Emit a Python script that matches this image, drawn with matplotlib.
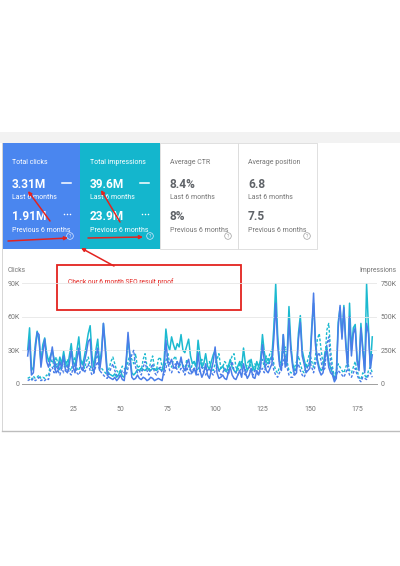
import numpy as np
import matplotlib
matplotlib.use('Agg')
import matplotlib.pyplot as plt
from matplotlib.patches import Rectangle, Circle, FancyArrowPatch

plt.rcParams['font.family'] = ['Roboto', 'DejaVu Sans']

# Data (clicks in K, impressions in K), one value per day
clicks_last = [25, 39, 8, 10, 30, 46, 44, 15, 28, 40, 20, 15, 22, 33, 18, 10, 12, 20, 14, 25,
               12, 10, 18, 30, 15, 10, 22, 32, 15, 12, 20, 28, 38, 40, 15, 10, 25, 32, 12, 25,
               54, 30, 8, 6, 5, 4, 6, 3, 5, 8, 4, 3, 20, 46, 25, 6, 4, 5, 8, 5,
               4, 6, 5, 3, 4, 6, 5, 3, 4, 5, 4, 3, 12, 39, 20, 18, 22, 15, 14, 20,
               16, 24, 15, 12, 18, 22, 12, 10, 14, 8, 28, 12, 6, 10, 18, 8, 5, 12, 20, 33,
               10, 5, 6, 8, 5, 4, 10, 15, 8, 5, 4, 8, 12, 6, 18, 10, 5, 8, 14, 6,
               5, 12, 8, 15, 35, 20, 12, 10, 14, 18, 40, 72, 35, 17, 12, 44, 15, 20, 57, 30,
               15, 8, 10, 40, 55, 25, 18, 10, 12, 14, 45, 81, 35, 20, 12, 8, 10, 25, 30, 15,
               10, 8, 2, 5, 50, 70, 40, 68, 35, 15, 60, 25, 45, 50, 20, 12, 50, 30, 10, 54,
               45, 14, 26]
impressions_last = [250, 417, 100, 125, 292, 392, 317, 167, 292, 342, 233, 167, 208, 250, 183, 125, 133, 200, 150, 242,
                    150, 125, 208, 300, 167, 133, 250, 350, 183, 142, 208, 292, 375, 433, 208, 125, 250, 333, 150, 250,
                    450, 292, 100, 75, 67, 58, 75, 50, 67, 100, 58, 50, 150, 333, 208, 83, 67, 83, 108, 100,
                    117, 108, 100, 117, 108, 100, 117, 108, 100, 117, 108, 100, 167, 408, 292, 250, 350, 292, 250, 300,
                    275, 367, 250, 233, 283, 333, 208, 150, 167, 125, 325, 208, 125, 150, 225, 133, 108, 167, 217, 250,
                    150, 100, 117, 133, 100, 92, 133, 183, 125, 100, 83, 133, 167, 117, 267, 150, 100, 133, 183, 117,
                    100, 167, 125, 183, 367, 233, 167, 150, 183, 208, 417, 745, 375, 167, 150, 367, 150, 208, 575, 292,
                    150, 100, 117, 375, 508, 250, 183, 125, 133, 150, 417, 600, 317, 183, 125, 100, 117, 233, 275, 167,
                    117, 83, 33, 67, 458, 567, 350, 583, 317, 150, 600, 250, 417, 442, 183, 125, 450, 267, 100, 745,
                    417, 117, 350]
clicks_prev = [3, 4, 3, 5, 3, 4, 6, 3, 4, 3, 5, 4, 12, 15, 10, 18, 12, 8, 14, 10,
               12, 16, 10, 8, 14, 18, 10, 8, 12, 15, 10, 14, 18, 12, 8, 10, 16, 20, 12, 10,
               8, 6, 5, 10, 14, 18, 12, 8, 6, 8, 12, 10, 8, 14, 20, 26, 30, 15, 10, 12,
               8, 15, 20, 12, 8, 14, 18, 10, 8, 12, 15, 10, 8, 14, 20, 12, 10, 15, 18, 12,
               10, 14, 12, 8, 15, 10, 8, 12, 14, 10, 8, 12, 15, 10, 8, 12, 14, 10, 8, 12,
               15, 12, 8, 10, 14, 12, 8, 15, 20, 12, 10, 8, 12, 14, 10, 8, 12, 15, 10, 8,
               12, 10, 8, 12, 14, 10, 18, 15, 20, 24, 12, 8, 6, 10, 14, 20, 25, 15, 8, 6,
               6, 10, 14, 18, 12, 8, 6, 10, 16, 20, 15, 10, 18, 25, 28, 20, 12, 14, 35, 42,
               20, 10, 4, 8, 12, 10, 8, 6, 10, 14, 8, 6, 10, 14, 8, 4, 2, 6, 5, 4,
               8, 10, 6]
impressions_prev = [42, 50, 33, 58, 42, 50, 67, 42, 50, 42, 67, 58, 150, 183, 125, 200, 150, 100, 167, 125,
                    133, 183, 117, 100, 167, 200, 117, 100, 150, 167, 117, 167, 200, 133, 100, 117, 183, 217, 133, 117,
                    100, 83, 67, 117, 167, 200, 150, 100, 83, 100, 133, 117, 100, 167, 217, 183, 150, 225, 117, 133,
                    100, 183, 225, 133, 100, 167, 208, 117, 100, 183, 200, 125, 100, 167, 233, 150, 125, 183, 208, 150,
                    117, 167, 150, 100, 183, 125, 100, 150, 167, 117, 100, 150, 183, 125, 100, 150, 167, 117, 100, 150,
                    183, 225, 117, 125, 167, 150, 100, 167, 208, 225, 125, 100, 150, 167, 125, 100, 150, 183, 125, 100,
                    150, 125, 100, 150, 183, 125, 208, 167, 233, 250, 150, 100, 83, 125, 167, 233, 275, 167, 100, 83,
                    83, 125, 167, 208, 150, 100, 83, 125, 183, 233, 167, 125, 208, 333, 375, 250, 150, 167, 400, 450,
                    250, 125, 50, 100, 150, 125, 100, 83, 125, 167, 100, 83, 125, 167, 100, 50, 33, 83, 67, 42,
                    100, 125, 83]

left_ticks = [0, 30, 60, 90]
left_labels = ['0', '30K', '60K', '90K']
right_ticks = [0, 250, 500, 750]
right_labels = ['0', '250K', '500K', '750K']
x_ticks = [25, 50, 75, 100, 125, 150, 175]

cards = [
    ('Total clicks', '3.31M', '1.91M'),
    ('Total impressions', '39.6M', '23.9M'),
    ('Average CTR', '8.4%', '8%'),
    ('Average position', '6.8', '7.5'),
]

BLUE = '#4a86ef'
TEAL = '#14b6cd'
LINE_BLUE = '#4a7de8'
LINE_TEAL = '#1cbad0'
GRAY_TXT = '#757575'
RED = '#e3231f'

fig = plt.figure(figsize=(4, 5.66), dpi=100)
fig.patch.set_facecolor('white')

# chart
ax = fig.add_axes([22 / 400, (566 - 384) / 566, 355 / 400, 101 / 566])
ax.set_facecolor('none')
days = np.arange(1, len(clicks_last) + 1)
ax2 = ax.twinx()
ax2.plot(days, impressions_prev, color=LINE_TEAL, lw=1.0, ls=(0, (2, 1.3)))
ax.plot(days, clicks_prev, color=LINE_BLUE, lw=1.0, ls=(0, (2, 1.3)), zorder=3)
ax2.plot(days, impressions_last, color=LINE_TEAL, lw=1.1)
ax.plot(days, clicks_last, color=LINE_BLUE, lw=1.1, zorder=4)
ax.set_zorder(ax2.get_zorder() + 1)

ax.set_xlim(-2, 185.5)
ax.set_ylim(0, 90)
ax2.set_ylim(0, 750)
ax.set_yticks(left_ticks)
ax.set_yticklabels(left_labels)
ax2.set_yticks(right_ticks)
ax2.set_yticklabels(right_labels)
ax.set_xticks(x_ticks)
for a in (ax, ax2):
    for s in a.spines.values():
        s.set_visible(False)
ax.spines['bottom'].set_visible(True)
ax.spines['bottom'].set_color('#9e9e9e')
ax.spines['bottom'].set_linewidth(0.7)
ax.grid(axis='y', color='#e6e6e6', lw=0.6)
ax.set_axisbelow(True)
ax.tick_params(axis='y', length=0, pad=1.5, labelsize=5, labelcolor=GRAY_TXT)
ax.tick_params(axis='x', length=0, pad=16, labelsize=5, labelcolor=GRAY_TXT)
ax2.tick_params(axis='y', length=0, pad=2.5, labelsize=5, labelcolor=GRAY_TXT)

# overlay in pixel coordinates
ov = fig.add_axes([0, 0, 1, 1])
ov.set_xlim(0, 400)
ov.set_ylim(566, 0)
ov.axis('off')
ov.set_facecolor('none')

ov.add_patch(Rectangle((0, 132), 400, 11, color='#f2f2f2', lw=0))
ov.plot([1.5, 1.5], [143, 431], color='#d6d6d6', lw=0.7)
ov.plot([1.5, 400], [431, 431], color='#bdbdbd', lw=1.0)

card_x = [2, 80, 160, 238]
card_w = [78, 80, 78, 79]
fills = [BLUE, TEAL, 'white', 'white']
for i, (title, v1, v2) in enumerate(cards):
    x0 = card_x[i]
    if fills[i] == 'white':
        ov.add_patch(Rectangle((x0, 143), card_w[i], 106, fc='white', ec='#dadada', lw=0.6))
        tc, vc, cc = GRAY_TXT, '#5f6368', '#9e9e9e'
    else:
        ov.add_patch(Rectangle((x0, 143), card_w[i], 106, color=fills[i], lw=0))
        tc, vc, cc = 'white', 'white', '#dfe9ff'
    tx = x0 + 10
    ov.text(tx, 163, title, color=tc, fontsize=5, va='center')
    ov.text(tx, 184, v1, color=vc, fontsize=8.6, fontweight='bold', va='center')
    ov.text(tx, 197.5, 'Last 6 months', color=tc, fontsize=5, va='center')
    ov.text(tx, 216, v2, color=vc, fontsize=8.6, fontweight='bold', va='center')
    ov.text(tx, 230, 'Previous 6 months', color=tc, fontsize=5, va='center')
    cx = x0 + card_w[i] - 10
    ov.add_patch(Circle((cx, 236), 3.3, fill=False, ec=cc, lw=0.5))
    ov.text(cx, 236.3, '?', color=cc, fontsize=3.6, ha='center', va='center')
    if i < 2:
        ov.plot([x0 + 60, x0 + 69], [183, 183], color='white', lw=1.1)
        ov.plot([x0 + 61.5, x0 + 64.5, x0 + 67.5], [214, 214, 214], ls='none',
                marker='o', ms=1.1, color='white', mec='none')

# axis titles
ov.text(8, 271, 'Clicks', color=GRAY_TXT, fontsize=4.9, va='center')
ov.text(396, 271, 'Impressions', color=GRAY_TXT, fontsize=4.9, va='center', ha='right')

# red annotation box
ov.add_patch(Rectangle((57, 265), 184, 45, fc='white', ec=RED, lw=1.3, zorder=5))
ov.text(68, 282, 'Check our 6 month SEO result proof', color=RED, fontsize=4.8,
        va='center', zorder=6)

arrows = [((50, 221), (28, 191)),
          ((8, 241), (68, 238)),
          ((120, 222), (101, 190)),
          ((88, 238), (143, 237)),
          ((114, 266), (81, 248))]
for (x1, y1), (x2, y2) in arrows:
    ov.add_patch(FancyArrowPatch((x1, y1), (x2, y2), arrowstyle='-|>', mutation_scale=5,
                                 color=RED, lw=1.1, shrinkA=0, shrinkB=0, zorder=7))

fig.savefig('out.png', dpi=100)
